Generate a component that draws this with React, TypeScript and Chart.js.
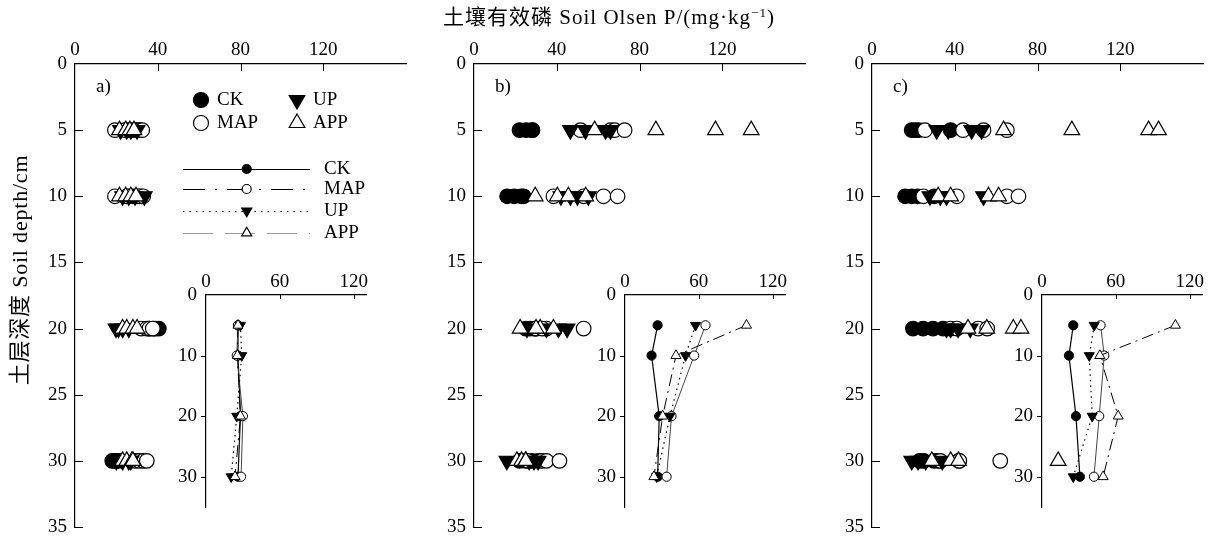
import React, { useEffect, useRef } from 'react';
import { Chart, registerables } from 'chart.js';
import { drawPoint } from 'chart.js/helpers';

Chart.register(...registerables);

const FONT = "'Liberation Serif', 'Times New Roman', 'Noto Sans CJK SC', serif";
const FS = 19;

// ---------- data ----------
const treatments = ['CK', 'MAP', 'UP', 'APP'];
const repDepths = [5, 5, 5, 5, 10, 10, 10, 10, 20, 20, 20, 20, 30, 30, 30, 30];
const insetDepths = [5, 10, 20, 30];
const xTicksMain = [0, 40, 80, 120];
const yTicksMain = [0, 5, 10, 15, 20, 25, 30, 35];
const xTicksInset = [0, 60, 120];
const yTicksInset = [0, 10, 20, 30];

// panel a replicates
const aCK = [26, 28, 30, 31, 26, 28, 30, 32, 36, 38, 39, 40.5, 18, 19, 20, 21];
const aMAP = [19.3, 24, 31, 32.5, 19.3, 25, 31, 33, 32, 34.7, 36, 37.6, 29, 31, 33, 34.7];
const aUP = [22, 25, 27, 30, 23, 26, 29, 33.5, 19.8, 21, 23, 26, 20, 23, 26, 27];
const aAPP = [21.5, 24.5, 26.5, 28.5, 21.5, 24.5, 27, 29.5, 23, 25, 28, 30, 23, 25, 27.5, 28];
// panel b replicates
const bCK = [22, 25.2, 28.2, 28.2, 16, 19.4, 22.8, 24, 25, 27, 29, 30, 22, 25, 28, 31];
const bMAP = [51.5, 66, 68, 72.8, 38.4, 53, 62.6, 69.4, 30, 35, 33, 53, 26, 32.8, 35, 41.3];
const bUP = [46.6, 53.9, 63.6, 66, 42, 46.6, 50, 55.3, 25.6, 35, 40.8, 45, 15.9, 26.7, 31, 29];
const bAPP = [58.3, 87.9, 116.7, 134, 29.6, 40.3, 45.6, 54, 22.3, 32, 38.4, 30, 20.7, 23, 25, 25];
// panel c replicates
const cCK = [19.2, 21, 22.5, 38, 16, 19.2, 22, 30, 19.8, 24.7, 29.5, 34.4, 23, 25, 30, 42];
const cMAP = [25.6, 44, 53.9, 65.2, 24.8, 41, 65.2, 70.8, 38, 41, 51.3, 55.7, 32, 33, 42.2, 62];
const cUP = [31.3, 36.9, 48.2, 53, 28, 33, 36, 53.9, 36, 38, 41.6, 47.5, 19.2, 22.3, 26, 34];
const cAPP = [63.6, 96.6, 133.7, 138.5, 32, 38, 56.3, 61.2, 46.4, 55.5, 68.3, 72, 28.9, 38, 41.8, 90];

// inset means (depth 5, 10, 20, 30)
const iaCK = [26, 26, 28, 26];
const iaMAP = [26, 25, 30, 28.5];
const iaUP = [28, 29, 25, 20.5];
const iaAPP = [26, 25.5, 28, 23.6];
const ibCK = [26.5, 21.6, 27.8, 26.5];
const ibMAP = [65.4, 56.2, 37.8, 33.8];
const ibUP = [57.3, 49.2, 36.5, 25.7];
const ibAPP = [98.7, 41.4, 30.6, 23.5];
const icCK = [25.4, 21.9, 27.6, 30.8];
const icMAP = [47.6, 50.6, 46.5, 42.2];
const icUP = [42.4, 38.4, 40.8, 25.4];
const icAPP = [108.4, 47, 61.9, 49.7];

// ---------- styles ----------
const mk: Record<string, { style: string; rot: number; bg: string }> = {
  CK: { style: 'circle', rot: 0, bg: '#000' },
  MAP: { style: 'circle', rot: 0, bg: '#fff' },
  UP: { style: 'triangle', rot: 180, bg: '#000' },
  APP: { style: 'triangle', rot: 0, bg: '#fff' },
};
const insetLine: Record<string, { color: string; dash: number[]; width: number }> = {
  CK: { color: '#000', dash: [], width: 1.2 },
  MAP: { color: '#444', dash: [], width: 1 },
  UP: { color: '#000', dash: [1.5, 4], width: 1.2 },
  APP: { color: '#000', dash: [12, 5, 2, 5], width: 1 },
};

// ---------- plugins ----------
const inTicks = {
  id: 'inTicks',
  afterDraw(chart: any, _a: any, opts: any) {
    const ctx = chart.ctx;
    const xs = chart.scales.x;
    const ys = chart.scales.y;
    const area = chart.chartArea;
    ctx.save();
    ctx.strokeStyle = '#000';
    ctx.lineWidth = 1;
    for (const t of xs.ticks) {
      if (t.value === xs.min) continue;
      const px = Math.round(xs.getPixelForValue(t.value)) + 0.5;
      ctx.beginPath();
      ctx.moveTo(px, area.top);
      ctx.lineTo(px, area.top + opts.xLen);
      ctx.stroke();
    }
    for (const t of ys.ticks) {
      if (t.value === ys.min) continue;
      const py = Math.round(ys.getPixelForValue(t.value)) + 0.5;
      ctx.beginPath();
      ctx.moveTo(area.left, py);
      ctx.lineTo(area.left + opts.yLen, py);
      ctx.stroke();
    }
    ctx.restore();
  },
};

const panelLabel = {
  id: 'panelLabel',
  afterDraw(chart: any, _a: any, opts: any) {
    if (!opts || !opts.text) return;
    const ctx = chart.ctx;
    const area = chart.chartArea;
    ctx.save();
    ctx.fillStyle = '#000';
    ctx.font = `${FS}px ${FONT}`;
    ctx.textBaseline = 'middle';
    ctx.textAlign = 'left';
    ctx.fillText(opts.text, area.left + 21, area.top + 23);
    ctx.restore();
  },
};

function glyph(ctx: any, t: string, x: number, y: number, rc: number, rt: number) {
  const m = mk[t];
  ctx.fillStyle = m.bg;
  ctx.strokeStyle = '#000';
  ctx.lineWidth = 1.2;
  ctx.setLineDash([]);
  drawPoint(ctx, { pointStyle: m.style, rotation: m.rot, radius: m.style === 'circle' ? rc : rt, borderWidth: 1.2 } as any, x, y);
}

const legendPlugin = {
  id: 'legendBox',
  afterDraw(chart: any, _a: any, opts: any) {
    if (!opts || !opts.show) return;
    const ctx = chart.ctx;
    const L = chart.chartArea.left;
    const T = chart.chartArea.top;
    ctx.save();
    ctx.font = `${FS}px ${FONT}`;
    ctx.textBaseline = 'middle';
    ctx.textAlign = 'left';
    // marker legend
    const mrows = [
      { t: 'CK', x: 126, y: 36 },
      { t: 'UP', x: 222, y: 36 },
      { t: 'MAP', x: 126, y: 59 },
      { t: 'APP', x: 222, y: 59 },
    ];
    for (const r of mrows) {
      glyph(ctx, r.t, L + r.x, T + r.y, 7.5, 9);
      ctx.fillStyle = '#000';
      ctx.fillText(r.t, L + r.x + 16, T + r.y);
    }
    // line legend
    const lrows = [
      { t: 'CK', y: 105, color: '#000', dash: [] as number[] },
      { t: 'MAP', y: 125, color: '#000', dash: [22, 10, 2, 10] },
      { t: 'UP', y: 147, color: '#000', dash: [1.5, 5] },
      { t: 'APP', y: 169, color: '#999', dash: [30, 12] },
    ];
    for (const r of lrows) {
      ctx.strokeStyle = r.color;
      ctx.lineWidth = 1.2;
      ctx.setLineDash(r.dash);
      ctx.beginPath();
      ctx.moveTo(L + 108, T + r.y + 0.5);
      ctx.lineTo(L + 235, T + r.y + 0.5);
      ctx.stroke();
      ctx.setLineDash([]);
      glyph(ctx, r.t, L + 171.7, T + r.y, 4.5, 5.8);
      ctx.fillStyle = '#000';
      ctx.fillText(r.t, L + 249, T + r.y);
    }
    ctx.restore();
  },
};

// ---------- configs ----------
const tickFont = { family: FONT, size: FS };

function axisCommon() {
  return {
    type: 'linear',
    grid: { display: true, drawOnChartArea: false, drawTicks: false },
    border: { display: true, color: '#000', width: 1.2 },
  };
}

function fitX(h: number) {
  return (s: any) => { s.height = h; s.paddingLeft = 0; s.paddingRight = 0; };
}
function fitY(w: number) {
  return (s: any) => { s.width = w; s.paddingTop = 0; s.paddingBottom = 0; };
}

function mainConfig(vals: Record<string, number[]>, label: string, legend: boolean, padLeft: number, padRight: number) {
  const datasets = treatments.map((t, i) => ({
    label: t,
    data: repDepths.map((d, j) => ({ x: vals[t][j], y: d })),
    showLine: false,
    pointStyle: mk[t].style,
    rotation: mk[t].rot,
    pointRadius: mk[t].style === 'circle' ? 7.3 : 9,
    pointBackgroundColor: mk[t].bg,
    pointBorderColor: '#000',
    pointBorderWidth: 1.2,
    order: 4 - i,
  }));
  return {
    type: 'scatter',
    data: { datasets },
    options: {
      responsive: false,
      animation: false,
      events: [],
      layout: { padding: { left: padLeft, top: 24, right: padRight, bottom: 13 } },
      plugins: {
        legend: { display: false },
        tooltip: { enabled: false },
        inTicks: { xLen: 7, yLen: 8 },
        panelLabel: { text: label },
        legendBox: { show: legend },
      },
      scales: {
        x: {
          ...axisCommon(),
          position: 'top',
          min: 0,
          max: 160,
          afterBuildTicks: (s: any) => { s.ticks = xTicksMain.map((v) => ({ value: v })); },
          afterFit: fitX(40),
          ticks: { font: tickFont, color: '#000', padding: 3, maxRotation: 0, autoSkip: false },
        },
        y: {
          ...axisCommon(),
          position: 'left',
          reverse: true,
          min: 0,
          max: 35,
          afterBuildTicks: (s: any) => { s.ticks = yTicksMain.map((v) => ({ value: v })); },
          afterFit: fitY(45),
          ticks: { font: tickFont, color: '#000', padding: 8, autoSkip: false },
        },
      },
    },
    plugins: [inTicks, panelLabel, legendPlugin],
  };
}

function insetConfig(vals: Record<string, number[]>) {
  const datasets = treatments.map((t, i) => ({
    label: t,
    data: insetDepths.map((d, j) => ({ x: vals[t][j], y: d })),
    showLine: true,
    borderColor: insetLine[t].color,
    borderWidth: insetLine[t].width,
    borderDash: insetLine[t].dash,
    tension: 0,
    pointStyle: mk[t].style,
    rotation: mk[t].rot,
    pointRadius: mk[t].style === 'circle' ? 4.6 : 5.8,
    pointBackgroundColor: mk[t].bg,
    pointBorderColor: '#000',
    pointBorderWidth: 1,
    order: 4 - i,
  }));
  return {
    type: 'scatter',
    data: { datasets },
    options: {
      responsive: false,
      animation: false,
      events: [],
      layout: { padding: { left: 10, top: 10, right: 14, bottom: 18 } },
      plugins: {
        legend: { display: false },
        tooltip: { enabled: false },
        inTicks: { xLen: 4, yLen: -5 },
      },
      scales: {
        x: {
          ...axisCommon(),
          position: 'top',
          min: 0,
          max: 130,
          afterBuildTicks: (s: any) => { s.ticks = xTicksInset.map((v) => ({ value: v })); },
          afterFit: fitX(30),
          ticks: { font: tickFont, color: '#000', padding: 2, maxRotation: 0, autoSkip: false },
        },
        y: {
          ...axisCommon(),
          position: 'left',
          reverse: true,
          min: 0,
          max: 35,
          afterBuildTicks: (s: any) => { s.ticks = yTicksInset.map((v) => ({ value: v })); },
          afterFit: fitY(36),
          ticks: { font: tickFont, color: '#000', padding: 9, autoSkip: false },
        },
      },
    },
    plugins: [inTicks],
  };
}

function ChartBox(props: { left: number; top: number; width: number; height: number; config: any }) {
  const ref = useRef<HTMLCanvasElement | null>(null);
  useEffect(() => {
    if (!ref.current) return;
    const chart = new Chart(ref.current, props.config);
    return () => chart.destroy();
  }, []);
  return (
    <canvas
      ref={ref}
      width={props.width}
      height={props.height}
      style={{ position: 'absolute', left: props.left, top: props.top, width: props.width, height: props.height }}
    />
  );
}

export default function App() {
  useEffect(() => {
    document.body.style.margin = '0';
  }, []);
  const A = { CK: aCK, MAP: aMAP, UP: aUP, APP: aAPP };
  const B = { CK: bCK, MAP: bMAP, UP: bUP, APP: bAPP };
  const C = { CK: cCK, MAP: cMAP, UP: cUP, APP: cAPP };
  const IA = { CK: iaCK, MAP: iaMAP, UP: iaUP, APP: iaAPP };
  const IB = { CK: ibCK, MAP: ibMAP, UP: ibUP, APP: ibAPP };
  const IC = { CK: icCK, MAP: icMAP, UP: icUP, APP: icAPP };
  return (
    <div style={{ position: 'relative', width: 1218, height: 540, background: '#fff', overflow: 'hidden', fontFamily: FONT }}>
      <ChartBox left={0} top={0} width={430} height={540} config={mainConfig(A, 'a)', true, 30, 24)} />
      <ChartBox left={400} top={0} width={430} height={540} config={mainConfig(B, 'b)', false, 29, 25)} />
      <ChartBox left={798} top={0} width={420} height={540} config={mainConfig(C, 'c)', false, 29, 15)} />
      <ChartBox left={160} top={255} width={220} height={270} config={insetConfig(IA)} />
      <ChartBox left={579} top={255} width={220} height={270} config={insetConfig(IB)} />
      <ChartBox left={996} top={255} width={220} height={270} config={insetConfig(IC)} />
      <div style={{ position: 'absolute', left: 0, top: 3, width: 1218, textAlign: 'center', fontSize: 21, letterSpacing: 1, lineHeight: '28px', color: '#000' }}>
        土壤有效磷 Soil Olsen P/(mg·kg<sup style={{ fontSize: 13, verticalAlign: 7, lineHeight: 0 }}>−1</sup>)
      </div>
      <div style={{ position: 'absolute', left: 20 - 160, top: 270 - 14, width: 320, height: 28, lineHeight: '28px', textAlign: 'center', fontSize: 22, letterSpacing: 0.8, color: '#000', transform: 'rotate(-90deg)' }}>
        土层深度 Soil depth/cm
      </div>
    </div>
  );
}
